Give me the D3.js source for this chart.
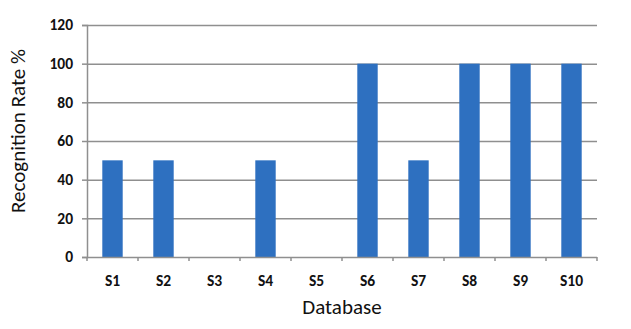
<!DOCTYPE html>
<html>
<head>
<meta charset="utf-8">
<script src="https://cdn.jsdelivr.net/npm/d3@7"></script>
<style>
  body { margin: 0; background: #fff; }
  text { font-family: Carlito, "Liberation Sans", "DejaVu Sans", sans-serif; fill: #111; }
</style>
</head>
<body>
<div id="chart"></div>
<script>
// Data
const categories = ["S1", "S2", "S3", "S4", "S5", "S6", "S7", "S8", "S9", "S10"];
const recognitionRates = [50, 50, 0, 50, 0, 100, 50, 100, 100, 100];
const yTicks = [0, 20, 40, 60, 80, 100, 120];

const svgWidth = 631, svgHeight = 329;
const margin = { top: 25, right: 34, bottom: 72, left: 87 };
const width = svgWidth - margin.left - margin.right;
const height = svgHeight - margin.top - margin.bottom;

const svg = d3.select("#chart")
  .append("svg")
  .attr("width", svgWidth)
  .attr("height", svgHeight)
  .append("g")
  .attr("transform", "translate(" + margin.left + "," + margin.top + ")");

// Scales
const x = d3.scaleBand()
  .domain(categories)
  .range([0, width])
  .paddingInner(0.6)
  .paddingOuter(0.3);

const y = d3.scaleLinear()
  .domain([0, 120])
  .range([height, 0]);

// Gridlines
svg.append("g")
  .selectAll("line")
  .data(yTicks.filter(d => d > 0))
  .enter()
  .append("line")
  .attr("x1", 0)
  .attr("x2", width)
  .attr("y1", d => y(d) + 0.5)
  .attr("y2", d => y(d) + 0.5)
  .attr("stroke", "#8f8f8f")
  .attr("stroke-width", 1.5);

// Y axis
const yAxis = svg.append("g")
  .call(d3.axisLeft(y).tickValues(yTicks).tickSize(5).tickPadding(9));
yAxis.select(".domain").attr("stroke", "#8f8f8f").attr("stroke-width", 1.5);
yAxis.selectAll(".tick line").attr("stroke", "#8f8f8f").attr("stroke-width", 1.5);
yAxis.selectAll("text")
  .style("font-size", "15.5px")
  .style("font-weight", "bold");

// Bars
svg.selectAll(".bar")
  .data(categories)
  .enter()
  .append("rect")
  .attr("class", "bar")
  .attr("x", d => x(d))
  .attr("y", (d, i) => y(recognitionRates[i]))
  .attr("width", x.bandwidth())
  .attr("height", (d, i) => height - y(recognitionRates[i]))
  .attr("fill", "#2e70c0");

// X axis with ticks at band boundaries
const xg = svg.append("g")
  .attr("transform", "translate(0," + height + ")");
xg.append("line")
  .attr("x1", 0)
  .attr("x2", width)
  .attr("y1", 0.5)
  .attr("y2", 0.5)
  .attr("stroke", "#8f8f8f")
  .attr("stroke-width", 1.5);
const step = width / categories.length;
xg.selectAll(".bound")
  .data(d3.range(categories.length + 1))
  .enter()
  .append("line")
  .attr("x1", d => d * step)
  .attr("x2", d => d * step)
  .attr("y1", 0)
  .attr("y2", 4)
  .attr("stroke", "#8f8f8f")
  .attr("stroke-width", 1.5);
xg.selectAll(".lbl")
  .data(categories)
  .enter()
  .append("text")
  .attr("x", d => x(d) + x.bandwidth() / 2)
  .attr("y", 29)
  .attr("text-anchor", "middle")
  .style("font-size", "15.5px")
  .style("font-weight", "bold")
  .text(d => d);

// Axis titles
svg.append("text")
  .attr("x", width / 2)
  .attr("y", height + 57)
  .attr("text-anchor", "middle")
  .style("font-size", "21px")
  .text("Database");

svg.append("text")
  .attr("transform", "rotate(-90)")
  .attr("x", -(height / 2) + 10)
  .attr("y", -margin.left + 25)
  .attr("text-anchor", "middle")
  .style("font-size", "21px")
  .text("Recognition Rate %");
</script>
</body>
</html>
